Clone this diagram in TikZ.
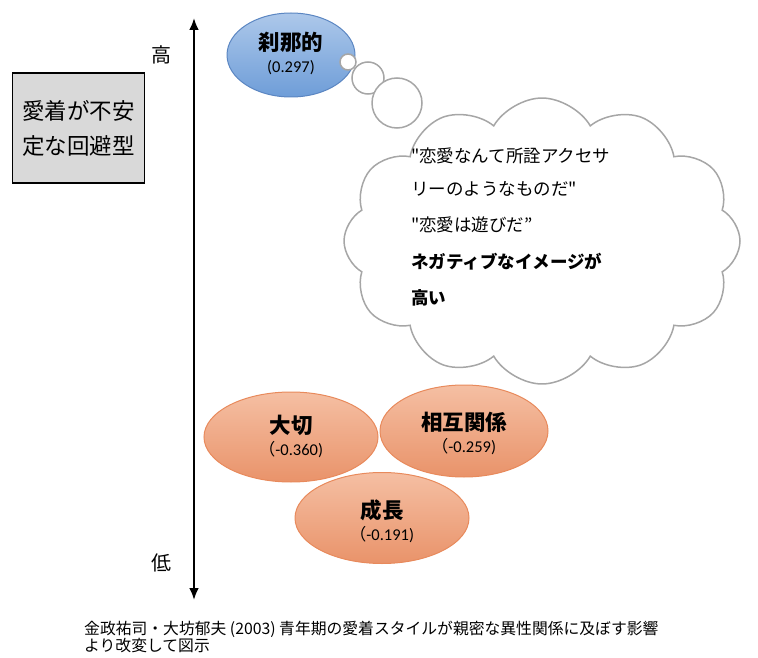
\documentclass[tikz,border=0pt]{standalone}
\usepackage{fontspec}
\setmainfont{Carlito}
\newfontfamily\cjk{Noto Sans CJK JP}
\usetikzlibrary{shapes.geometric,shapes.symbols,arrows.meta}
\definecolor{boxgray}{HTML}{D9D9D9}
\definecolor{bluetop}{HTML}{ADC8EA}
\definecolor{bluebot}{HTML}{6E9DD8}
\definecolor{blueline}{HTML}{5B86C2}
\definecolor{orgtop}{HTML}{F5BFA3}
\definecolor{orgbot}{HTML}{E9936A}
\definecolor{orgline}{HTML}{E88A5C}
\definecolor{cloudline}{HTML}{A6A6A6}
\tikzset{
  blueell/.style={ellipse, draw=blueline, line width=1pt, top color=bluetop, bottom color=bluebot, minimum width=128pt, minimum height=84pt, inner sep=0pt},
  orgell/.style={ellipse, draw=orgline, line width=1pt, top color=orgtop, bottom color=orgbot, inner sep=0pt},
  bubble/.style={circle, draw=cloudline, line width=1.5pt, fill=white, inner sep=0pt},
  ttl/.style={font=\cjk\bfseries\fontsize{21.5}{24}\selectfont, inner sep=0pt},
  val/.style={font=\fontsize{16.5}{18}\selectfont, inner sep=0pt},
  cl/.style={anchor=west, inner sep=0pt, font=\cjk\fontsize{17.5}{20}\selectfont},
}
\begin{document}
\begin{tikzpicture}[x=1pt,y=-1pt]
\path[use as bounding box] (0,0) rectangle (758,658);
% axis
\coordinate (atop) at (194,18);
\coordinate (abot) at (194,600);
\draw[line width=2.4pt, {Latex[length=12pt,width=10pt]}-{Latex[length=12pt,width=10pt]}] (atop) -- (abot);
\node[font=\cjk\fontsize{20}{24}\selectfont, inner sep=0pt] (hi) at (161,55) {高};
\node[font=\cjk\fontsize{20}{24}\selectfont, inner sep=0pt] (lo) at (161,563) {低};
% gray box
\node[draw, line width=1.8pt, fill=boxgray, minimum width=132pt, minimum height=110pt, inner sep=0pt, align=center,
  font=\cjk\fontsize{22.5}{35}\selectfont] (box) at (78.5,128) {愛着が不安\\定な回避型};
% cloud
\node[cloud, cloud puffs=12, cloud puff arc=120, cloud ignores aspect, draw=cloudline, line width=1.5pt, fill=white,
  minimum width=396pt, minimum height=286pt] (cloud) at (542,241) {};
% blue ellipse
\node[blueell] (setsuna) at (291,55) {};
\node[ttl] (setsunat) at (291,42) {刹那的};
\node[val] (setsunav) at (291,68) {(0.297)};
% bubbles
\node[bubble, minimum size=16pt] (b1) at (348,62) {};
\node[bubble, minimum size=32pt] (b2) at (368,78) {};
\node[bubble, minimum size=50pt] (b3) at (397,103) {};
% cloud text
\node[cl] (l1) at (411,156) {"恋愛なんて所詮アクセサ};
\node[cl] (l2) at (411,189) {リーのようなものだ"};
\node[cl] (l3) at (411,225) {"恋愛は遊びだ”};
\node[cl, font=\cjk\bfseries\fontsize{17.5}{20}\selectfont] (l4) at (411,262) {ネガティブなイメージが};
\node[cl, font=\cjk\bfseries\fontsize{17.5}{20}\selectfont] (l5) at (411,298) {高い};
% orange ellipses
\node[orgell, minimum width=174pt, minimum height=90pt] (taisetsu) at (291,437) {};
\node[orgell, minimum width=168pt, minimum height=92pt] (sougo) at (464,431) {};
\node[orgell, minimum width=174pt, minimum height=91pt] (seichou) at (382,518) {};
\node[ttl] (taisetsut) at (291,425) {大切};
\node[val] (taisetsuv) at (291,450) {{\cjk（}-0.360)};
\node[ttl] (sougot) at (464,422) {相互関係};
\node[val] (sougov) at (464,447) {{\cjk（}-0.259)};
\node[ttl] (seichout) at (382,510) {成長};
\node[val] (seichouv) at (382,535) {{\cjk（}-0.191)};
% footer
\node[anchor=north west, inner sep=0pt, align=left, font=\cjk\fontsize{15.8}{17}\selectfont] (src) at (84,621)
  {金政祐司・大坊郁夫 (2003) 青年期の愛着スタイルが親密な異性関係に及ぼす影響\\より改変して図示};
\end{tikzpicture}
\end{document}
